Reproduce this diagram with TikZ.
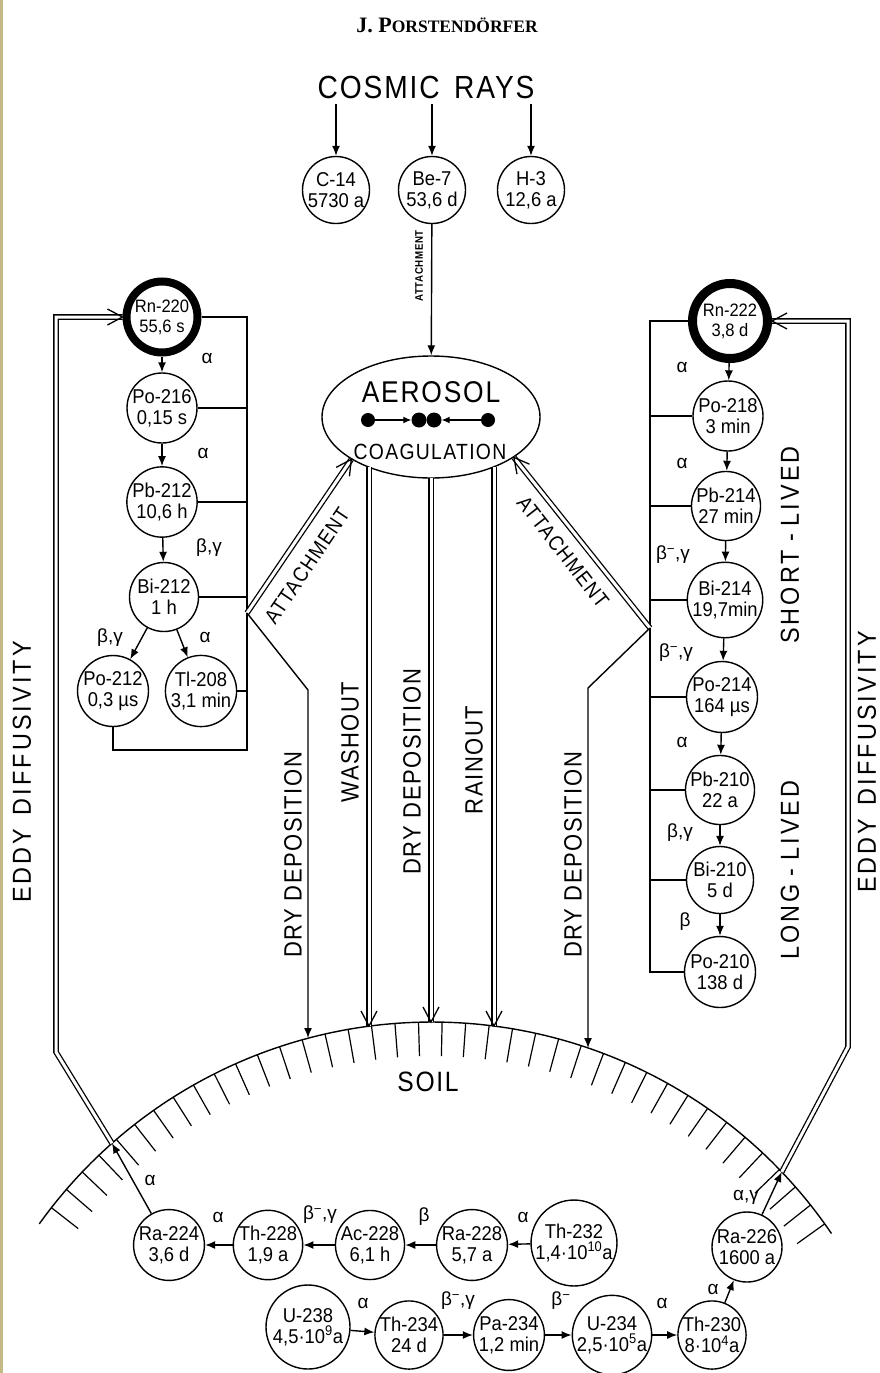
\documentclass[tikz,border=0pt]{standalone}
\usepackage{fontspec}
\setmainfont{Liberation Sans}
\newfontfamily\hdrfont{Liberation Serif}
\newfontfamily\nodefont{Liberation Sans}[FakeStretch=0.92]
\newfontfamily\bigfont{Liberation Sans}[FakeStretch=0.88,LetterSpace=6.0]
\newfontfamily\widefont{Liberation Sans}[FakeStretch=0.9,LetterSpace=12.0]
\usetikzlibrary{arrows.meta,calc,shapes.geometric}
\definecolor{edgecol}{RGB}{196,184,132}
\newcommand\mychev[2]{\draw[chev] ($(#1)!17pt!28:(#2)$) -- (#1) -- ($(#1)!17pt!-28:(#2)$);}
\tikzset{
  ln/.style={line width=1.4pt},
  arr/.style={ln,-{Latex[length=10pt,width=8pt]}},
  iso/.style={circle,draw,line width=1.4pt,minimum size=67pt,inner sep=0pt,align=center,font=\nodefont\fontsize{20}{21}\selectfont},
  bigiso/.style={iso,line width=8pt,minimum size=71pt,font=\nodefont\fontsize{18}{20}\selectfont},
  dec/.style={font=\fontsize{19}{19}\selectfont},
  biglbl/.style={font=\bigfont\fontsize{25}{25}\selectfont},
  widelbl/.style={font=\widefont\fontsize{26}{26}\selectfont},
  dbl/.style={draw,line width=1.3pt,double=white,double distance=3pt},
  chev/.style={line width=1.3pt},
  dot/.style={circle,fill,inner sep=0pt,minimum size=14pt},
}
\begin{document}
\begin{tikzpicture}[x=1pt,y=-1pt]
\useasboundingbox (0,0) rectangle (879,1373);
\fill[white] (0,0) rectangle (879,1373);
\fill[edgecol] (0,0) rectangle (2.5,1373);

% header
\node (hdr) at (447,25) {\hdrfont\bfseries\fontsize{22}{22}\selectfont J. P\fontsize{17.5}{22}\selectfont ORSTENDÖRFER};

% cosmic rays
\node[font=\bigfont\fontsize{32}{32}\selectfont] (cosmic) at (426,87) {COSMIC\hspace{0.45em}RAYS};
\coordinate (cr1) at (336,104);
\coordinate (cr2) at (432,104);
\coordinate (cr3) at (531,104);
\node[iso] (C14) at (336,190) {C-14\\5730 a};
\node[iso] (Be7) at (432,190) {Be-7\\53,6 d};
\node[iso] (H3) at (531,190) {H-3\\12,6 a};
\draw[arr] (cr1) -- (C14);
\draw[arr] (cr2) -- (Be7);
\draw[arr] (cr3) -- (H3);

% aerosol
\node[ellipse,draw,ln,minimum width=218pt,minimum height=122pt,inner sep=0pt] (aer) at (431,417) {};
\draw[arr] (Be7) -- (aer);
\node[rotate=90,font=\bigfont\bfseries\fontsize{11}{11}\selectfont] (attb) at (419,266) {ATTACHMENT};
\node[font=\bigfont\fontsize{30}{30}\selectfont] (aerT) at (431,392) {AEROSOL};
\node[font=\bigfont\fontsize{22}{22}\selectfont] (coag) at (430,452) {COAGULATION};
\node[dot] (d1) at (368,420) {};
\node[dot,minimum size=15pt] (d2) at (419,420) {};
\node[dot,minimum size=15pt] (d3) at (434,420) {};
\node[dot] (d4) at (488,420) {};
\draw[line width=1.2pt,-{Latex[length=8pt,width=7pt]}] (d1) -- (d2);
\draw[line width=1.2pt,-{Latex[length=8pt,width=7pt]}] (d4) -- (d3);

% thorium chain (left)
\node[bigiso] (Rn220) at (162,317) {Rn-220\\55,6 s};
\node[iso] (Po216) at (162,408) {Po-216\\0,15 s};
\node[iso] (Pb212) at (162,502) {Pb-212\\10,6 h};
\node[iso,minimum size=69pt] (Bi212) at (164,597) {Bi-212\\1 h};
\node[iso] (Po212) at (113,691) {Po-212\\0,3 µs};
\node[iso] (Tl208) at (201,691) {Tl-208\\3,1 min};
\draw[arr] (Rn220) -- (Po216);
\draw[arr] (Po216) -- (Pb212);
\draw[arr] (Pb212) -- (Bi212);
\draw[arr] (Bi212) -- (Po212);
\draw[arr] (Bi212) -- (Tl208);
\node[dec] at (207,358) {α};
\node[dec] at (203,453) {α};
\node[dec] at (209,548) {β,γ};
\node[dec] at (110,638) {β,γ};
\node[dec] at (205,637) {α};
\coordinate (LB) at (247,750);
\coordinate (LJ) at (247,613);
\draw[ln] (Rn220.east) -- (Rn220.east -| LB) -- (LB) -| (Po212.south);
\draw[ln] (Po216.east) -- (Po216.east -| LB);
\draw[ln] (Pb212.east) -- (Pb212.east -| LB);
\draw[ln] (Bi212.east) -- (Bi212.east -| LB);
\draw[ln] (Tl208.east) -- (Tl208.east -| LB);

% radium chain (right)
\node[bigiso,line width=9pt,minimum size=75pt] (Rn222) at (730,321) {Rn-222\\3,8 d};
\node[iso,minimum size=70pt] (Po218) at (728,416) {Po-218\\3 min};
\node[iso] (Pb214) at (726,506) {Pb-214\\27 min};
\node[iso] (Bi214) at (725,600) {Bi-214\\19,7min};
\node[iso] (Po214) at (722,697) {Po-214\\164 µs};
\node[iso] (Pb210) at (720,790) {Pb-210\\22 a};
\node[iso] (Bi210) at (720,880) {Bi-210\\5 d};
\node[iso,minimum size=71pt] (Po210) at (720,972) {Po-210\\138 d};
\draw[arr] (Rn222) -- (Po218);
\draw[arr] (Po218) -- (Pb214);
\draw[arr] (Pb214) -- (Bi214);
\draw[arr] (Bi214) -- (Po214);
\draw[arr] (Po214) -- (Pb210);
\draw[arr] (Pb210) -- (Bi210);
\draw[arr] (Bi210) -- (Po210);
\node[dec] at (682,367) {α};
\node[dec] at (682,463) {α};
\node[dec] at (673,555) {β\textsuperscript{−},γ};
\node[dec] at (676,653) {β\textsuperscript{−},γ};
\node[dec] at (682,742) {α};
\node[dec] at (680,833) {β,γ};
\node[dec] at (685,922) {β};
\coordinate (RB) at (650,972);
\coordinate (RJ) at (650,628);
\draw[ln] (Rn222.west) -- (Rn222.west -| RB) -- (RB) -- (Po210.west);
\foreach \n in {Po218,Pb214,Bi214,Po214,Pb210,Bi210}
  \draw[ln] (\n.west) -- (\n.west -| RB);

% attachment
\coordinate (LA) at (aer.208);
\coordinate (RA) at (aer.334);
\draw[dbl] (LJ) -- (LA);
\mychev{LA}{LJ}
\draw[dbl] (RJ) -- (RA);
\mychev{RA}{RJ}
\node[font=\bigfont\fontsize{21}{21}\selectfont,rotate=56] at (307,566) {ATTACHMENT};
\node[font=\bigfont\fontsize{21}{21}\selectfont,rotate=-52] at (563,552) {ATTACHMENT};

% soil
\draw[ln] plot[domain=215.6:325.8,samples=140] ({432+483*cos(\x)},{1505+483*sin(\x)});
\foreach \a in {218,220.8,...,325}
  \draw[line width=1.2pt] ({432+483*cos(\a)},{1505+483*sin(\a)}) -- ({432+449*cos(\a)},{1505+449*sin(\a)});
\node[font=\bigfont\fontsize{28}{28}\selectfont] (soil) at (428,1082) {SOIL};

% depositions
\coordinate (LDk) at (308,690);
\coordinate (LDs) at (308,1038);
\draw[arr] (LJ) -- (LDk) -- (LDs);
\coordinate (RDk) at (588,688);
\coordinate (RDs) at (588,1048);
\draw[arr] (RJ) -- (RDk) -- (RDs);
\coordinate (wa1) at (369,467);
\coordinate (wa2) at (369,1026);
\coordinate (dd1) at (431,478);
\coordinate (dd2) at (431,1022);
\coordinate (ra1) at (494,467);
\coordinate (ra2) at (494,1026);
\draw[dbl] (wa1) -- (wa2); \mychev{wa2}{wa1}
\draw[dbl] (dd1) -- (dd2); \mychev{dd2}{dd1}
\draw[dbl] (ra1) -- (ra2); \mychev{ra2}{ra1}
\node[biglbl,rotate=90] at (350,742) {WASHOUT};
\node[biglbl,rotate=90] at (412,772) {DRY DEPOSITION};
\node[biglbl,rotate=90] at (474,760) {RAINOUT};
\node[biglbl,rotate=90] at (293,855) {DRY DEPOSITION};
\node[biglbl,rotate=90] at (573,855) {DRY DEPOSITION};
\node[widelbl,rotate=90] at (790,545) {SHORT\hspace{0.3em}-\hspace{0.3em}LIVED};
\node[widelbl,rotate=90] at (790,870) {LONG\hspace{0.3em}-\hspace{0.3em}LIVED};
\node[widelbl,rotate=90] at (22,772) {EDDY\hspace{0.5em}DIFFUSIVITY};
\node[widelbl,rotate=90] at (867,762) {EDDY\hspace{0.5em}DIFFUSIVITY};

% eddy diffusivity
\coordinate (SL) at ({432+483*cos(228.5)},{1505+483*sin(228.5)});
\coordinate (SR) at ({432+483*cos(316.4)},{1505+483*sin(316.4)});
\coordinate (EL) at (56,1052);
\coordinate (ER) at (848,1047);
\coordinate (ELt) at (EL |- Rn220.west);
\coordinate (ERt) at (ER |- Rn222.east);
\draw[dbl] (SL) -- (EL) -- (ELt) -- (Rn220.west);
\mychev{Rn220.west}{ELt}
\draw[dbl] (SR) -- (ER) -- (ERt) -- (Rn222.east);
\mychev{Rn222.east}{ERt}

% thorium-232 series (bottom row 1)
\node[iso] (Ra224) at (169,1245) {Ra-224\\3,6 d};
\node[iso] (Th228) at (268,1245) {Th-228\\1,9 a};
\node[iso] (Ac228) at (370,1245) {Ac-228\\6,1 h};
\node[iso] (Ra228) at (472,1245) {Ra-228\\5,7 a};
\node[iso,minimum size=76pt] (Th232) at (574,1243) {Th-232\\1,4·10\textsuperscript{10}a};
\draw[arr] (Th232) -- (Ra228);
\draw[arr] (Ra228) -- (Ac228);
\draw[arr] (Ac228) -- (Th228);
\draw[arr] (Th228) -- (Ra224);
\draw[arr] (Ra224) -- (SL);
\node[dec] at (218,1217) {α};
\node[dec] at (320,1215) {β\textsuperscript{−},γ};
\node[dec] at (424,1217) {β};
\node[dec] at (523,1217) {α};
\node[dec] at (150,1180) {α};

% uranium-238 series (bottom row 2)
\node[iso,minimum size=84pt] (U238) at (308,1327) {U-238\\4,5·10\textsuperscript{9}a};
\node[iso] (Th234) at (409,1335) {Th-234\\24 d};
\node[iso] (Pa234) at (509,1335) {Pa-234\\1,2 min};
\node[iso] (U234) at (612,1335) {U-234\\2,5·10\textsuperscript{5}a};
\node[iso] (Th230) at (712,1335) {Th-230\\8·10\textsuperscript{4}a};
\node[iso,minimum size=70pt] (Ra226) at (747,1247) {Ra-226\\1600 a};
\draw[arr] (U238) -- (Th234);
\draw[arr] (Th234) -- (Pa234);
\draw[arr] (Pa234) -- (U234);
\draw[arr] (U234) -- (Th230);
\draw[arr] (Th230) -- (Ra226);
\draw[arr] (Ra226) -- (SR);
\node[dec] at (363,1303) {α};
\node[dec] at (458,1301) {β\textsuperscript{−},γ};
\node[dec] at (561,1301) {β\textsuperscript{−}};
\node[dec] at (662,1303) {α};
\node[dec] at (713,1289) {α};
\node[dec] at (746,1197) {α,γ};
\end{tikzpicture}
\end{document}
